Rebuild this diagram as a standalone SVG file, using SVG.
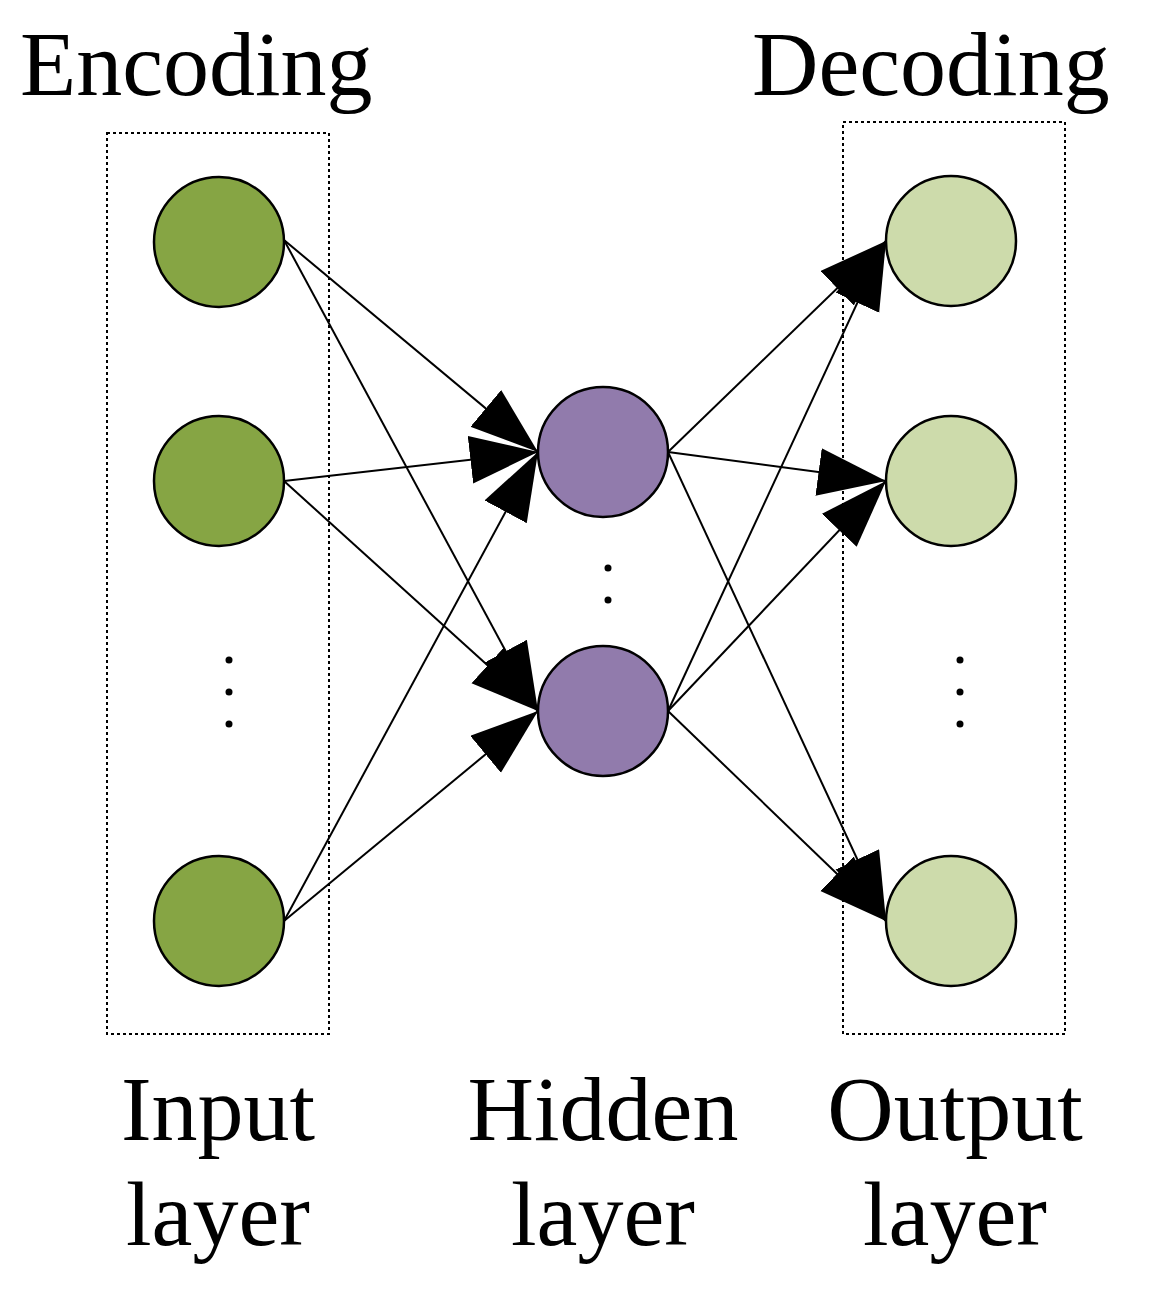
<svg xmlns="http://www.w3.org/2000/svg" width="1176" height="1293" viewBox="0 0 1176 1293">
<style>
.t{font-family:"Liberation Serif",serif;font-size:92px;fill:#000}
.box{fill:none;stroke:#000;stroke-width:2;stroke-dasharray:3 3}
.c{stroke:#000;stroke-width:2.5}
.e{stroke:#000;stroke-width:2;fill:none}
</style>
<defs>
<marker id="a" markerUnits="userSpaceOnUse" markerWidth="70" markerHeight="50" refX="68" refY="24" orient="auto">
<path d="M0,0 L68,24 L0,48 Z" fill="#000"/>
</marker>
</defs>
<rect fill="#fff" width="1176" height="1293"/>
<text class="t" x="20" y="95">Encoding</text>
<text class="t" x="752" y="95">Decoding</text>
<rect class="box" x="107" y="133" width="222" height="901"/>
<rect class="box" x="843" y="122" width="222" height="912"/>
<g id="connectors" marker-end="url(#a)">
<line class="e" x1="284" y1="240" x2="538" y2="452"/>
<line class="e" x1="284" y1="240" x2="538" y2="711"/>
<line class="e" x1="284" y1="481" x2="538" y2="452"/>
<line class="e" x1="284" y1="481" x2="538" y2="711"/>
<line class="e" x1="284" y1="921" x2="538" y2="452"/>
<line class="e" x1="284" y1="921" x2="538" y2="711"/>
<line class="e" x1="668" y1="452" x2="886" y2="241"/>
<line class="e" x1="668" y1="452" x2="886" y2="481"/>
<line class="e" x1="668" y1="452" x2="886" y2="921"/>
<line class="e" x1="668" y1="711" x2="886" y2="241"/>
<line class="e" x1="668" y1="711" x2="886" y2="481"/>
<line class="e" x1="668" y1="711" x2="886" y2="921"/>
</g>
<g id="in1"><circle class="c" cx="219" cy="242" r="65" fill="#86a544"/></g>
<g id="in2"><circle class="c" cx="219" cy="481" r="65" fill="#86a544"/></g>
<g id="in3"><circle class="c" cx="219" cy="921" r="65" fill="#86a544"/></g>
<g id="h1"><circle class="c" cx="603" cy="452" r="65" fill="#917bac"/></g>
<g id="h2"><circle class="c" cx="603" cy="711" r="65" fill="#917bac"/></g>
<g id="o1"><circle class="c" cx="951" cy="241" r="65" fill="#cddbab"/></g>
<g id="o2"><circle class="c" cx="951" cy="481" r="65" fill="#cddbab"/></g>
<g id="o3"><circle class="c" cx="951" cy="921" r="65" fill="#cddbab"/></g>
<g fill="#000">
<circle cx="229" cy="660" r="3.5"/><circle cx="229" cy="692" r="3.5"/><circle cx="229" cy="724" r="3.5"/>
<circle cx="608" cy="568" r="3.5"/><circle cx="608" cy="600" r="3.5"/>
<circle cx="960" cy="660" r="3.5"/><circle cx="960" cy="692" r="3.5"/><circle cx="960" cy="724" r="3.5"/>
</g>
<text class="t" x="218" y="1140" text-anchor="middle">Input</text>
<text class="t" x="218" y="1245" text-anchor="middle">layer</text>
<text class="t" x="603" y="1140" text-anchor="middle">Hidden</text>
<text class="t" x="603" y="1245" text-anchor="middle">layer</text>
<text class="t" x="955" y="1140" text-anchor="middle">Output</text>
<text class="t" x="955" y="1245" text-anchor="middle">layer</text>
</svg>
